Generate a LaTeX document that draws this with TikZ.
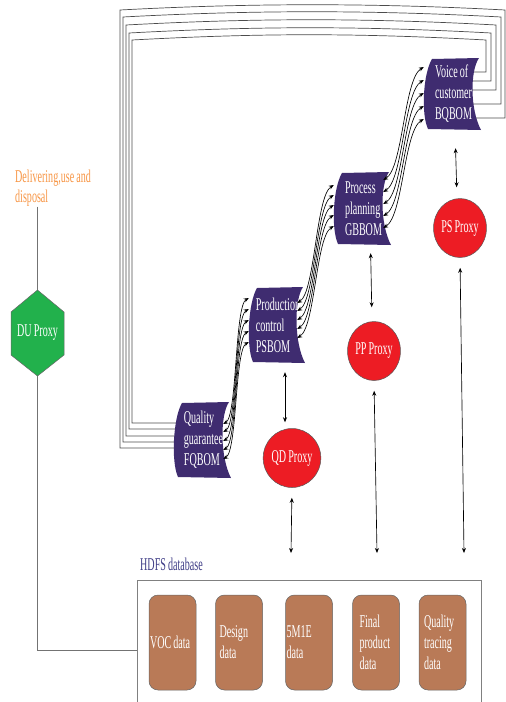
\documentclass[tikz,border=0pt]{standalone}
\usepackage{fontspec}
\setmainfont{Liberation Serif}[FakeStretch=0.56,WordSpace=0.85]
\usetikzlibrary{shapes.geometric,arrows.meta,calc}
\definecolor{bomc}{HTML}{3F2C70}
\definecolor{proxyred}{HTML}{ED1C24}
\definecolor{dugreen}{HTML}{22B14C}
\definecolor{datab}{HTML}{B97A57}
\definecolor{orangetxt}{HTML}{F79646}
\definecolor{hdfstxt}{HTML}{3F3D86}
\pgfdeclarelayer{bg}
\pgfsetlayers{bg,main}
\newcommand\bomnode[6]{%
  \fill[bomc] (#2+4,#3) -- (#4,#3-1) .. controls (#4-9,#3+12) and (#4-9,#5-20) .. (#4+2,#5+1)
     -- (#2,#5) .. controls (#2-7,#5-15) and (#2-5,#3+15) .. (#2+4,#3) -- cycle;
  \node[bomtext, minimum width={#4-#2}, minimum height={#5-#3}] (#1) at ({(#2+#4)/2},{(#3+#5)/2}) {#6};
}
\begin{document}
\begin{tikzpicture}[x=1pt,y=-1pt,
  every node/.style={font=\fontsize{18}{21}\selectfont},
  bomtext/.style={text=white, align=left, inner sep=0pt},
  proxy/.style={ellipse, fill=proxyred, draw=black!65, line width=0.5pt, minimum width=51pt, minimum height=59pt, inner sep=0pt, text=white},
  databox/.style={rounded corners=9pt, fill=datab, draw=black!60, line width=0.5pt, minimum width=47pt, minimum height=95pt, text width=45pt, inner xsep=1pt, align=flush left, text=white},
  dblarr/.style={black, line width=0.65pt, {Stealth[length=5pt,width=4pt]}-{Stealth[length=5pt,width=4pt]}},
  fbline/.style={black!70, line width=0.7pt},
  thinline/.style={black!55, line width=0.7pt}]
\useasboundingbox (0,0) rectangle (506,702);
\clip (0,0) rectangle (506,702);

% BOM shapes
\bomnode{fq}{178}{403}{229}{477}{Quality\\guarantee\\FQBOM}
\bomnode{ps}{253}{288}{303}{362}{Production\\control\\PSBOM}
\bomnode{gb}{338}{173}{389}{244}{Process\\planning\\GBBOM}
\bomnode{bq}{428}{59}{479}{129}{Voice of\\customer\\BQBOM}

% feedback lines
\begin{pgfonlayer}{bg}
\foreach \ys/\xr/\yt/\xl/\yb in {22/486/40/132/17, 13/491/33/129/11, 4/496/25/126/4, -10/501/17/123/-2, -24/505/10/120/-8}
  \draw[fbline] ([xshift=-10pt,yshift=\ys pt]bq.east) -| (\xr,\yt)
     .. controls (\xr-130,\yt-7) and (\xl+130,\yt-7) .. (\xl,\yt)
     |- ([xshift=2pt,yshift=\yb pt]fq.west);
\end{pgfonlayer}

% S-curve bundles
\foreach \s/\e in {16/27, 8/16, -1/5, -10/-6, -19/-17}
  \draw[dblarr] ([xshift=-6pt,yshift=\s pt]fq.east) .. controls +(14,-8) and +(-14,8) .. ([xshift=-4pt,yshift=\e pt]ps.west);
\foreach \s/\e in {22/23.5, 14/13.5, 5/3.5, -4/-6.5, -13/-17.5}
  \draw[dblarr] ([xshift=-6pt,yshift=\s pt]ps.east) .. controls +(18,-11) and +(-18,11) .. ([xshift=-4pt,yshift=\e pt]gb.west);
\foreach \s/\e in {28.5/27, 16.5/14, 4.5/1, -7.5/-12, -19.5/-25}
  \draw[dblarr] ([xshift=-6pt,yshift=\s pt]gb.east) .. controls +(20,-12) and +(-20,12) .. ([xshift=-4pt,yshift=\e pt]bq.west);

% proxies
\node[proxy] (psp) at (460,228) {PS Proxy};
\node[proxy] (ppp) at (374,351) {PP Proxy};
\node[proxy] (qdp) at (292,458) {QD Proxy};

% DU proxy
\filldraw[fill=dugreen, draw=black!60, line width=0.5pt] (37.5,290) -- (64,312) -- (64,355) -- (37.5,376) -- (11,355) -- (11,312) -- cycle;
\node[text=white, minimum width=53pt, minimum height=86pt, inner sep=0pt] (du) at (37.5,333) {DU Proxy};
\node[anchor=north west, text=orangetxt, align=left, inner sep=0pt, font=\fontsize{18}{20}\selectfont] (deliv) at (15,170) {Delivering,use and\\disposal};
\draw[thinline] (deliv.south -| du.north) -- (du.north);

% HDFS
\node[draw=black!50, line width=0.6pt, minimum width=344pt, minimum height=140pt, anchor=north west, inner sep=0pt] (hdfs) at (137,580) {};
\node[text=hdfstxt, anchor=west, inner sep=0pt] (hdfslab) at (140,564) {HDFS database};
\draw[thinline] (du.south) |- (hdfs.west);

\node[databox] (voc) at (172.5,642.5) {VOC data};
\node[databox] (des) at (239,642.5) {\hspace*{3pt}Design\\\hspace*{3pt}data};
\node[databox] (mie) at (309,642.5) {5M1E\\data};
\node[databox] (fin) at (376,642.5) {\hspace*{6pt}Final\\\hspace*{6pt}product\\\hspace*{6pt}data};
\node[databox] (qtr) at (442.5,642.5) {\hspace*{4pt}Quality\\\hspace*{4pt}tracing\\\hspace*{4pt}data};

% vertical arrows
\coordinate (d1) at (291,553);
\coordinate (d2) at (377,553);
\coordinate (d3) at (464,553);
\draw[dblarr, shorten <=19pt, shorten >=11pt] ([xshift=1.5pt]bq.south) -- ([xshift=-3pt]psp.north);
\draw[dblarr, shorten <=9pt, shorten >=14pt] ([xshift=7pt]gb.south) -- ([xshift=-2pt]ppp.north);
\draw[dblarr, shorten <=10pt, shorten >=6pt] ([xshift=7pt]ps.south) -- ([xshift=-7pt]qdp.north);
\draw[dblarr, shorten <=10pt] (qdp.south) -- (d1);
\draw[dblarr, shorten <=10pt] (ppp.south) -- (d2);
\draw[dblarr, shorten <=10pt] (psp.south) -- (d3);
\end{tikzpicture}
\end{document}
